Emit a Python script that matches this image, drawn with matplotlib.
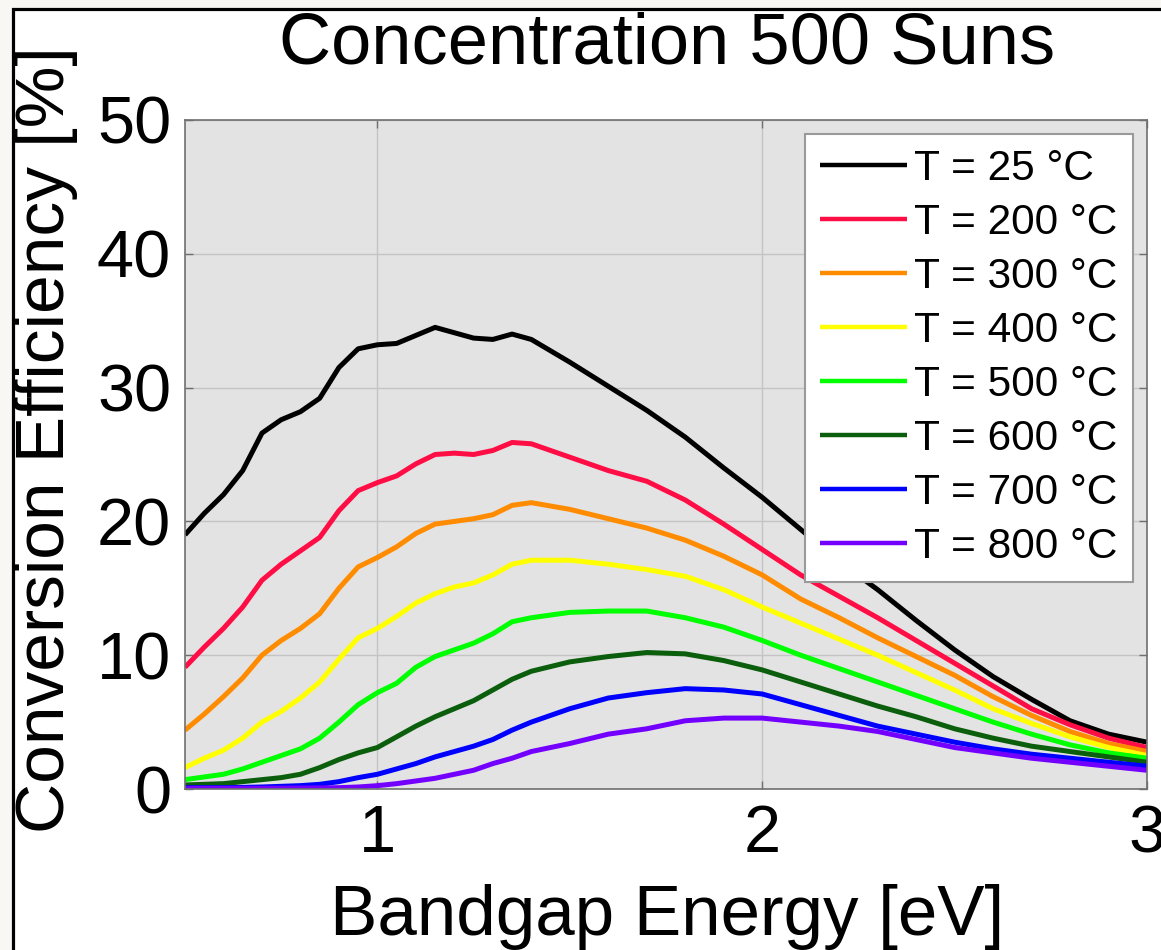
import matplotlib
matplotlib.use("Agg")
import matplotlib.pyplot as plt
from matplotlib.patches import Rectangle

plt.rcParams['font.family'] = ['Liberation Sans', 'DejaVu Sans']

# Bandgap energy grid [eV]
bandgap = [0.50, 0.55, 0.60, 0.65, 0.70, 0.75, 0.80, 0.85, 0.90, 0.95,
           1.00, 1.05, 1.10, 1.15, 1.20, 1.25, 1.30, 1.35, 1.40, 1.50,
           1.60, 1.70, 1.80, 1.90, 2.00, 2.10, 2.20, 2.30, 2.40, 2.50,
           2.60, 2.70, 2.80, 2.90, 3.00]

# Conversion efficiency [%] at 500 suns for each cell temperature
eff_25 = [19.0, 20.6, 22.0, 23.8, 26.6, 27.6, 28.2, 29.2, 31.5, 32.9,
          33.2, 33.3, 33.9, 34.5, 34.1, 33.7, 33.6, 34.0, 33.6, 31.9,
          30.1, 28.3, 26.3, 24.0, 21.8, 19.4, 17.0, 14.9, 12.6, 10.4,
          8.4, 6.7, 5.1, 4.1, 3.5]
eff_200 = [9.1, 10.6, 12.0, 13.6, 15.6, 16.8, 17.8, 18.8, 20.8, 22.3,
           22.9, 23.4, 24.3, 25.0, 25.1, 25.0, 25.3, 25.9, 25.8, 24.8,
           23.8, 23.0, 21.6, 19.8, 17.9, 16.0, 14.4, 12.8, 11.1, 9.4,
           7.7, 6.0, 4.8, 3.8, 3.1]
eff_300 = [4.4, 5.6, 6.9, 8.3, 10.0, 11.1, 12.0, 13.1, 15.0, 16.6,
           17.3, 18.1, 19.1, 19.8, 20.0, 20.2, 20.5, 21.2, 21.4, 20.9,
           20.2, 19.5, 18.6, 17.4, 16.0, 14.2, 12.8, 11.3, 9.9, 8.5,
           6.9, 5.5, 4.3, 3.4, 2.8]
eff_400 = [1.6, 2.3, 2.9, 3.8, 5.0, 5.8, 6.8, 8.0, 9.7, 11.3,
           12.0, 12.9, 13.9, 14.6, 15.1, 15.4, 16.0, 16.8, 17.1, 17.1,
           16.8, 16.4, 15.9, 14.9, 13.6, 12.4, 11.2, 10.0, 8.7, 7.4,
           6.0, 4.9, 3.9, 3.1, 2.5]
eff_500 = [0.7, 0.9, 1.1, 1.5, 2.0, 2.5, 3.0, 3.8, 5.0, 6.3,
           7.2, 7.9, 9.1, 9.9, 10.4, 10.9, 11.6, 12.5, 12.8, 13.2,
           13.3, 13.3, 12.8, 12.1, 11.1, 10.0, 9.0, 8.0, 7.0, 6.0,
           5.0, 4.1, 3.3, 2.7, 2.3]
eff_600 = [0.3, 0.35, 0.4, 0.55, 0.7, 0.85, 1.1, 1.6, 2.2, 2.7,
           3.1, 3.9, 4.7, 5.4, 6.0, 6.6, 7.4, 8.2, 8.8, 9.5,
           9.9, 10.2, 10.1, 9.6, 8.9, 8.0, 7.1, 6.2, 5.4, 4.5,
           3.8, 3.2, 2.8, 2.4, 2.0]
eff_700 = [0.1, 0.1, 0.1, 0.12, 0.15, 0.2, 0.25, 0.35, 0.55, 0.85,
           1.1, 1.5, 1.9, 2.4, 2.8, 3.2, 3.7, 4.4, 5.0, 6.0,
           6.8, 7.2, 7.5, 7.4, 7.1, 6.3, 5.5, 4.7, 4.1, 3.5,
           3.0, 2.6, 2.3, 2.0, 1.7]
eff_800 = [0.05, 0.05, 0.05, 0.05, 0.05, 0.06, 0.07, 0.08, 0.1, 0.15,
           0.25, 0.4, 0.6, 0.8, 1.1, 1.4, 1.9, 2.3, 2.8, 3.4,
           4.1, 4.5, 5.1, 5.3, 5.3, 5.0, 4.7, 4.3, 3.7, 3.1,
           2.7, 2.3, 2.0, 1.7, 1.4]

labels = ['T = 25 \u00b0C', 'T = 200 \u00b0C', 'T = 300 \u00b0C', 'T = 400 \u00b0C',
          'T = 500 \u00b0C', 'T = 600 \u00b0C', 'T = 700 \u00b0C', 'T = 800 \u00b0C']
colors = ['#000000', '#ff0d45', '#ff8c00', '#ffff00',
          '#00ff00', '#0b5e0b', '#0000ff', '#7300ff']
series = [eff_25, eff_200, eff_300, eff_400, eff_500, eff_600, eff_700, eff_800]

x_ticks = [1, 2, 3]
y_ticks = [0, 10, 20, 30, 40, 50]

W, H = 1161, 950
fig = plt.figure(figsize=(W / 100, H / 100), dpi=100, facecolor='#f8f7f3')

# white sheet with a black frame on its top and left edges
fig.add_artist(Rectangle((13 / W, -0.05), 1.2, (H - 9) / H + 0.05,
                         transform=fig.transFigure, facecolor='white',
                         edgecolor='black', lw=2.3, zorder=-10))

ax = fig.add_axes([185 / W, (H - 789) / H, 962 / W, 669 / H])
ax.set_facecolor('#e3e3e3')

for y, c, lab in zip(series, colors, labels):
    ax.plot(bandgap, y, color=c, lw=3.6, label=lab,
            solid_joinstyle='round', solid_capstyle='butt')

ax.set_xlim(0.5, 3)
ax.set_ylim(0, 50)
ax.set_xticks(x_ticks)
ax.set_yticks(y_ticks)
ax.grid(True, color='#c4c4c4', lw=1.0)
ax.set_axisbelow(True)
for s in ax.spines.values():
    s.set_color('#6f6f6f')
    s.set_linewidth(1.2)
ax.tick_params(axis='both', which='both', direction='in', length=6, width=1.0,
               color='#6f6f6f', top=True, right=True, labelsize=48,
               labelcolor='black')
ax.tick_params(axis='y', pad=10)
ax.tick_params(axis='x', pad=11)

leg = ax.legend(loc='upper right', bbox_to_anchor=(1133 / W, (H - 134) / H),
                bbox_transform=fig.transFigure, fontsize=30.5, frameon=True,
                fancybox=False, framealpha=1, edgecolor='#9a9a9a',
                handlelength=2.05, handletextpad=0.17, labelspacing=0.33,
                borderpad=0.36, borderaxespad=0)
leg.get_frame().set_linewidth(1.5)
for line in leg.get_lines():
    line.set_linewidth(3.2)

fig.text(667 / W, 1 - 63 / H, 'Concentration 500 Suns', fontsize=52,
         ha='center', va='baseline')
fig.text(667 / W, 1 - 935 / H, 'Bandgap Energy [eV]', fontsize=51,
         ha='center', va='baseline')
fig.text(46 / W, 1 - 440 / H, 'Conversion Efficiency [%]', fontsize=50,
         rotation=90, ha='center', va='center')

fig.savefig('out.png', dpi=100, facecolor=fig.get_facecolor())
